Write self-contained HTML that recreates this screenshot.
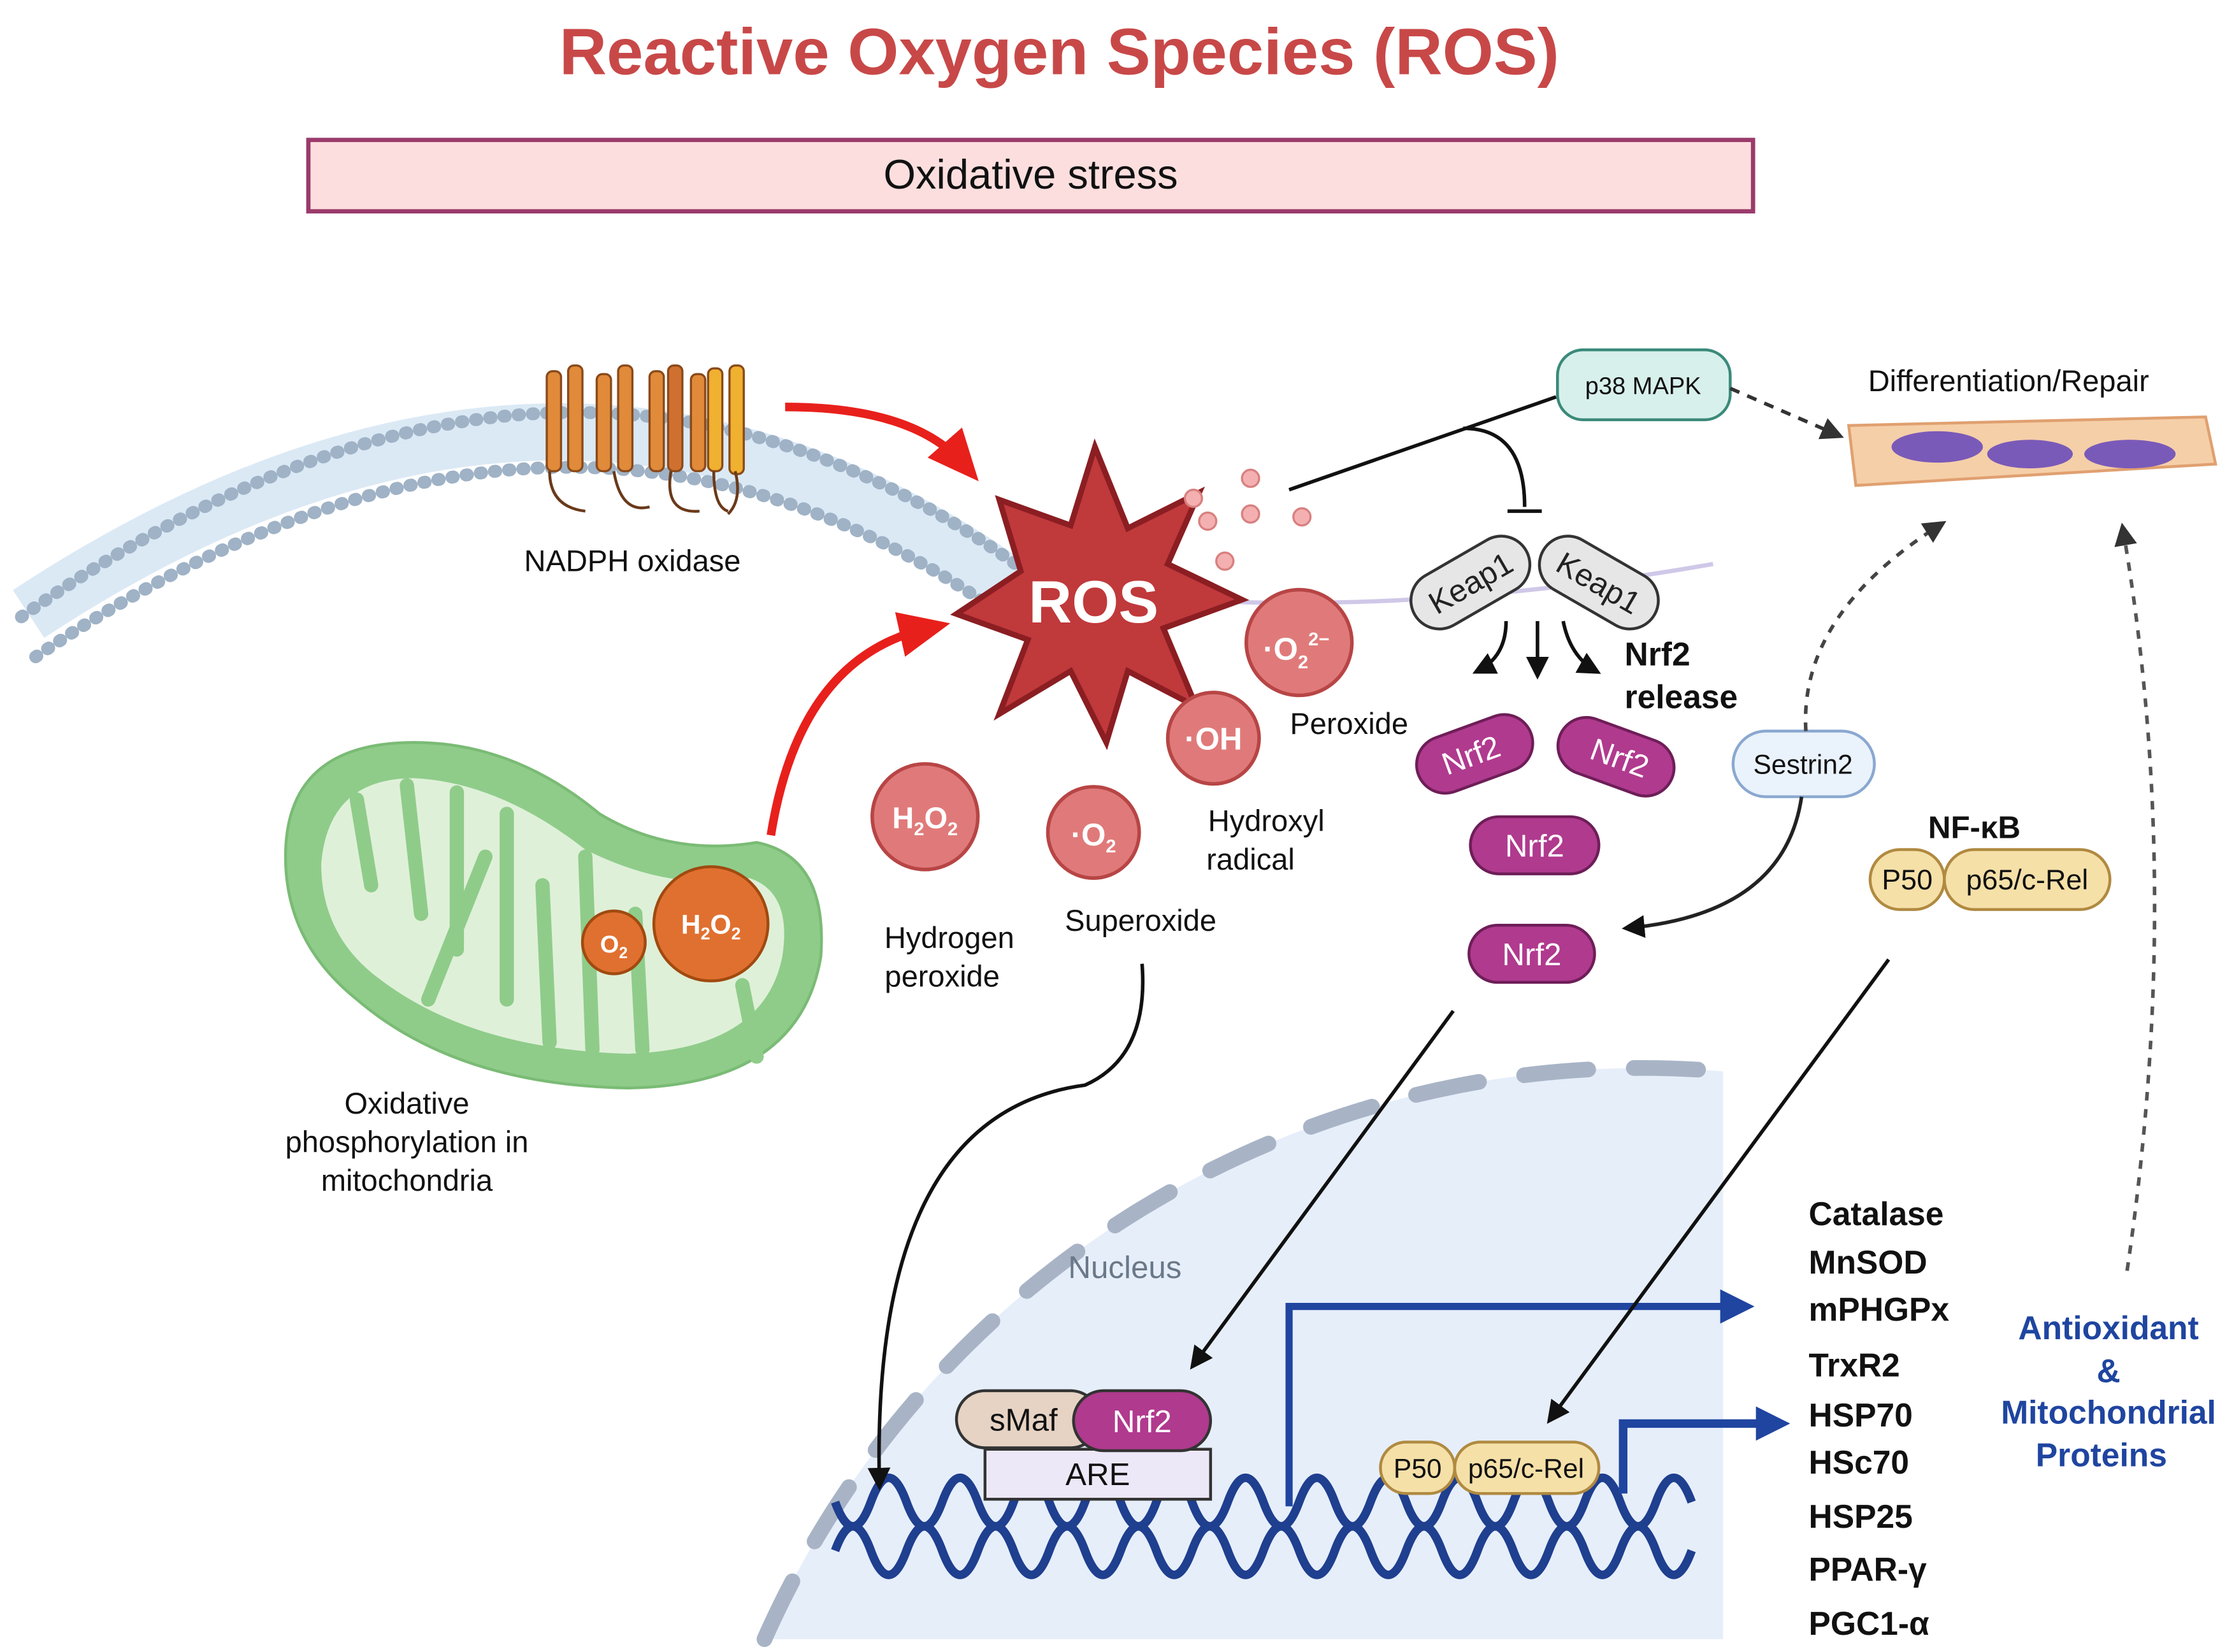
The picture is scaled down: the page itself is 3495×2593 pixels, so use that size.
<!DOCTYPE html>
<html><head><meta charset="utf-8"><style>
html,body{margin:0;padding:0;background:#fff;width:3495px;height:2593px;overflow:hidden}
svg{display:block}
text{font-family:"Liberation Sans",sans-serif}
</style></head><body>
<svg width="3495" height="2593" viewBox="0 0 1560 1157" preserveAspectRatio="none" xmlns="http://www.w3.org/2000/svg">
<defs>
<marker id="arr" markerWidth="40" markerHeight="40" refX="20" refY="20" orient="auto" markerUnits="userSpaceOnUse"><path d="M0,4 L36,20 L0,36 z" fill="#e8201c"/></marker>
<marker id="arb" markerWidth="30" markerHeight="30" refX="10" refY="15" orient="auto" markerUnits="userSpaceOnUse"><path d="M0,3 L24,15 L0,27 z" fill="#1f45a0"/></marker>
<marker id="ard" markerWidth="16" markerHeight="16" refX="12" refY="8" orient="auto" markerUnits="userSpaceOnUse"><path d="M0,0 L16,8 L0,16 z" fill="#333"/></marker>
<marker id="ark" markerWidth="16" markerHeight="16" refX="12" refY="8" orient="auto" markerUnits="userSpaceOnUse"><path d="M0,0 L16,8 L0,16 z" fill="#111"/></marker>
</defs>
<rect width="1560" height="1157" fill="#fff"/>
<text x="742" y="52" text-anchor="middle" font-size="46" font-weight="bold" fill="#c84848">Reactive Oxygen Species (ROS)</text>
<rect x="216" y="98" width="1012" height="50" fill="#fddede" stroke="#9a3b6b" stroke-width="3"/>
<text x="722" y="132" text-anchor="middle" font-size="29" fill="#111">Oxidative stress</text>

<path d="M20,430 Q400,180 720,420" fill="none" stroke="#dbe9f5" stroke-width="40"/>
<path d="M15,432 Q400,160 725,405" fill="none" stroke="#9fb2c6" stroke-width="9" stroke-dasharray="1 9" stroke-linecap="round"/>
<path d="M25,460 Q400,205 715,440" fill="none" stroke="#9fb2c6" stroke-width="9" stroke-dasharray="1 9" stroke-linecap="round"/>
<path d="M830,420 Q1000,430 1200,395" fill="none" stroke="#cfc8e8" stroke-width="3"/>
<g stroke="#8a4a1a" stroke-width="1.5">
<rect x="383" y="260" width="10" height="70" rx="4" fill="#e08a3a"/>
<rect x="398" y="256" width="10" height="74" rx="4" fill="#e08a3a"/>
<rect x="418" y="262" width="10" height="68" rx="4" fill="#e08a3a"/>
<rect x="433" y="256" width="10" height="74" rx="4" fill="#e08a3a"/>
<rect x="455" y="260" width="10" height="70" rx="4" fill="#e08a3a"/>
<rect x="468" y="256" width="10" height="74" rx="4" fill="#d07030"/>
<rect x="484" y="262" width="10" height="68" rx="4" fill="#e08a3a"/>
<rect x="496" y="258" width="10" height="72" rx="4" fill="#f0b030"/>
<rect x="511" y="256" width="10" height="76" rx="4" fill="#f0b030"/>
</g>
<path d="M385,330 q0,25 25,28 M430,330 q5,30 25,25 M470,330 q-5,30 20,28 M500,330 q0,25 10,28 M515,330 q5,20 -5,30" fill="none" stroke="#6a3a1a" stroke-width="2"/>
<text x="443" y="400" text-anchor="middle" font-size="21" fill="#111">NADPH oxidase</text>

<path d="M550,285 Q640,285 675,325" fill="none" stroke="#e8201c" stroke-width="6" marker-end="url(#arr)"/>
<path d="M540,585 Q560,460 650,440" fill="none" stroke="#e8201c" stroke-width="6" marker-end="url(#arr)"/>

<polygon points="767,313 790,370 840,345 818,395 870,420 815,440 838,495 790,470 775,520 750,470 700,500 720,448 670,430 715,400 700,350 750,368" fill="#c0393b" stroke="#8b1e22" stroke-width="4"/>
<text x="766" y="436" text-anchor="middle" font-size="42" font-weight="bold" fill="#fff">ROS</text>
<g fill="#f4b0b0" stroke="#d88080" stroke-width="1.5">
<circle cx="836" cy="349" r="6"/><circle cx="876" cy="335" r="6"/><circle cx="846" cy="365" r="6"/><circle cx="876" cy="360" r="6"/><circle cx="912" cy="362" r="6"/><circle cx="858" cy="393" r="6"/>
</g>
<g fill="#e07a7a" stroke="#b84545" stroke-width="2.5">
<circle cx="910" cy="450" r="37"/><circle cx="850" cy="517" r="32"/><circle cx="648" cy="572" r="37"/><circle cx="766" cy="583" r="32"/>
</g>
<g fill="#fff" font-weight="bold" text-anchor="middle">
<text x="908" y="462" font-size="22">·O<tspan font-size="13" dy="6">2</tspan><tspan font-size="13" dy="-16">2−</tspan></text>
<text x="850" y="525" font-size="22">·OH</text>
<text x="648" y="580" font-size="21">H<tspan font-size="13" dy="5">2</tspan><tspan dy="-5">O</tspan><tspan font-size="13" dy="5">2</tspan></text>
<text x="766" y="592" font-size="22">·O<tspan font-size="13" dy="5">2</tspan></text>
</g>
<g font-size="21" fill="#111" text-anchor="middle">
<text x="945" y="514">Peroxide</text>
<text x="887" y="582">Hydroxyl</text><text x="876" y="609">radical</text>
<text x="665" y="664">Hydrogen</text><text x="660" y="691">peroxide</text>
<text x="799" y="652">Superoxide</text>
</g>

<path d="M200,600 Q200,520 290,520 Q360,520 420,570 Q470,600 530,590 Q580,600 575,670 Q560,760 440,762 Q320,760 250,700 Q200,660 200,600 Z" fill="#8fcc8a" stroke="#7abb75" stroke-width="2"/>
<path d="M225,605 Q230,545 290,545 Q350,548 410,595 Q470,625 525,615 Q555,625 548,670 Q535,735 440,738 Q330,735 265,685 Q225,655 225,605 Z" fill="#dff0d8"/>
<g stroke="#8fcc8a" stroke-width="10" stroke-linecap="round">
<line x1="250" y1="560" x2="260" y2="620"/><line x1="285" y1="550" x2="295" y2="640"/><line x1="320" y1="555" x2="320" y2="665"/><line x1="300" y1="700" x2="340" y2="600"/><line x1="355" y1="570" x2="355" y2="700"/><line x1="385" y1="730" x2="380" y2="620"/><line x1="410" y1="600" x2="415" y2="735"/><line x1="450" y1="735" x2="445" y2="640"/><line x1="520" y1="690" x2="530" y2="740"/>
</g>
<circle cx="430" cy="660" r="22" fill="#e07030" stroke="#a04a10" stroke-width="2"/>
<circle cx="498" cy="647" r="40" fill="#e07030" stroke="#a04a10" stroke-width="2"/>
<text x="430" y="667" text-anchor="middle" font-size="17" font-weight="bold" fill="#fff">O<tspan font-size="11" dy="4">2</tspan></text>
<text x="498" y="654" text-anchor="middle" font-size="19" font-weight="bold" fill="#fff">H<tspan font-size="12" dy="4">2</tspan><tspan dy="-4">O</tspan><tspan font-size="12" dy="4">2</tspan></text>
<g font-size="21" fill="#111" text-anchor="middle">
<text x="285" y="780">Oxidative</text><text x="285" y="807">phosphorylation in</text><text x="285" y="834">mitochondria</text>
</g>

<rect x="1091" y="245" width="121" height="49" rx="18" fill="#d8f0ec" stroke="#3a8a7a" stroke-width="2"/>
<text x="1151" y="276" text-anchor="middle" font-size="17" fill="#111">p38 MAPK</text>
<path d="M903,343 L1090,278" stroke="#111" stroke-width="2.5" fill="none"/>
<path d="M1025,300 Q1068,300 1068,355" stroke="#111" stroke-width="2.5" fill="none"/>
<line x1="1056" y1="358" x2="1080" y2="358" stroke="#111" stroke-width="2.5"/>
<path d="M1212,272 L1288,305" stroke="#333" stroke-width="2.5" stroke-dasharray="7 6" fill="none" marker-end="url(#ard)"/>
<text x="1407" y="274" text-anchor="middle" font-size="21" fill="#111">Differentiation/Repair</text>
<path d="M1295,298 L1545,292 L1552,325 L1300,340 Z" fill="#f5cfa8" stroke="#e0a070" stroke-width="2"/>
<g fill="#7a5ab8"><ellipse cx="1357" cy="313" rx="32" ry="11"/><ellipse cx="1422" cy="318" rx="30" ry="10"/><ellipse cx="1492" cy="318" rx="32" ry="10"/></g>

<g transform="translate(1030,408) rotate(-30)"><rect x="-45" y="-20" width="90" height="40" rx="20" fill="#e6e6e6" stroke="#333" stroke-width="2"/><text x="0" y="8" text-anchor="middle" font-size="22" fill="#222">Keap1</text></g>
<g transform="translate(1120,408) rotate(30)"><rect x="-45" y="-20" width="90" height="40" rx="20" fill="#e6e6e6" stroke="#333" stroke-width="2"/><text x="0" y="8" text-anchor="middle" font-size="22" fill="#222">Keap1</text></g>
<path d="M1055,435 Q1055,460 1035,470" stroke="#111" stroke-width="2.5" fill="none" marker-end="url(#ark)"/>
<path d="M1077,435 L1077,472" stroke="#111" stroke-width="2.5" fill="none" marker-end="url(#ark)"/>
<path d="M1095,435 Q1100,460 1118,470" stroke="#111" stroke-width="2.5" fill="none" marker-end="url(#ark)"/>
<text x="1138" y="466" font-size="23" font-weight="bold" fill="#111">Nrf2</text>
<text x="1138" y="496" font-size="23" font-weight="bold" fill="#111">release</text>
<g fill="#b03a8e" stroke="#6e1e58" stroke-width="2">
<g transform="translate(1033,528) rotate(-20)"><rect x="-42" y="-20" width="84" height="40" rx="20"/></g>
<g transform="translate(1132,530) rotate(20)"><rect x="-42" y="-20" width="84" height="40" rx="20"/></g>
<rect x="1030" y="572" width="90" height="40" rx="20"/>
<rect x="1029" y="648" width="88" height="40" rx="20"/>
</g>
<g fill="#fff" font-size="22" text-anchor="middle">
<text transform="translate(1033,536) rotate(-20)">Nrf2</text>
<text transform="translate(1132,538) rotate(20)">Nrf2</text>
<text x="1075" y="600">Nrf2</text><text x="1073" y="676">Nrf2</text>
</g>
<rect x="1214" y="512" width="99" height="46" rx="23" fill="#eaf2fb" stroke="#8aa8d0" stroke-width="2"/>
<text x="1263" y="542" text-anchor="middle" font-size="19" fill="#111">Sestrin2</text>
<path d="M1265,512 Q1260,430 1360,367" stroke="#444" stroke-width="2.5" stroke-dasharray="6 6" fill="none" marker-end="url(#ard)"/>
<path d="M1262,558 Q1250,640 1140,650" stroke="#222" stroke-width="2.5" fill="none" marker-end="url(#ark)"/>
<text x="1383" y="587" text-anchor="middle" font-size="22" font-weight="bold" fill="#111">NF-κB</text>
<rect x="1310" y="595" width="52" height="42" rx="21" fill="#f5e0a8" stroke="#b08a40" stroke-width="2"/>
<rect x="1362" y="595" width="116" height="42" rx="21" fill="#f5e0a8" stroke="#b08a40" stroke-width="2"/>
<text x="1336" y="623" text-anchor="middle" font-size="20" fill="#111">P50</text>
<text x="1420" y="623" text-anchor="middle" font-size="20" fill="#111">p65/c-Rel</text>
<path d="M1490,890 Q1530,620 1487,370" stroke="#555" stroke-width="2.5" stroke-dasharray="6 6" fill="none" marker-end="url(#ard)"/>

<path d="M535.5,1148 A672,672 0 0 1 1207,750.4 L1207,1148 Z" fill="#e6eefa"/>
<path d="M535.5,1148 A672,672 0 0 1 1207,750.4" fill="none" stroke="#a8b4c6" stroke-width="11" stroke-dasharray="45 32" stroke-linecap="round"/>
<text x="788" y="895" text-anchor="middle" font-size="22" fill="#6a7888">Nucleus</text>
<path d="M585,1052 q12.5,34 25,0 t25,0 t25,0 t25,0 t25,0 t25,0 t25,0 t25,0 t25,0 t25,0 t25,0 t25,0 t25,0 t25,0 t25,0 t25,0 t25,0 t25,0 t25,0 t25,0 t25,0 t25,0 t25,0 t25,0" fill="none" stroke="#1f3f8f" stroke-width="6"/>
<path d="M585,1086 q12.5,-34 25,0 t25,0 t25,0 t25,0 t25,0 t25,0 t25,0 t25,0 t25,0 t25,0 t25,0 t25,0 t25,0 t25,0 t25,0 t25,0 t25,0 t25,0 t25,0 t25,0 t25,0 t25,0 t25,0 t25,0" fill="none" stroke="#1f3f8f" stroke-width="6"/>
<rect x="690" y="1015" width="158" height="35" fill="#ece8f8" stroke="#333" stroke-width="2"/>
<text x="769" y="1040" text-anchor="middle" font-size="22" fill="#111">ARE</text>
<rect x="670" y="974" width="100" height="40" rx="20" fill="#e6d3c4" stroke="#333" stroke-width="2"/>
<text x="717" y="1002" text-anchor="middle" font-size="22" fill="#111">sMaf</text>
<rect x="752" y="974" width="96" height="42" rx="21" fill="#b03a8e" stroke="#333" stroke-width="2"/>
<text x="800" y="1003" text-anchor="middle" font-size="22" fill="#fff">Nrf2</text>
<rect x="967" y="1010" width="52" height="36" rx="18" fill="#f5e0a8" stroke="#b08a40" stroke-width="2"/>
<rect x="1019" y="1010" width="101" height="36" rx="18" fill="#f5e0a8" stroke="#b08a40" stroke-width="2"/>
<text x="993" y="1035" text-anchor="middle" font-size="19" fill="#111">P50</text>
<text x="1069" y="1035" text-anchor="middle" font-size="19" fill="#111">p65/c-Rel</text>
<path d="M903,1055 L903,915 L1215,915" stroke="#1f45a0" stroke-width="5" fill="none" marker-end="url(#arb)"/>
<path d="M1137,1046 L1137,997 L1240,997" stroke="#1f45a0" stroke-width="6" fill="none" marker-end="url(#arb)"/>
<path d="M800,675 Q805,740 760,760 Q610,780 616,1040" stroke="#111" stroke-width="2.5" fill="none" marker-end="url(#ark)"/>
<path d="M1018,708 L836,956" stroke="#111" stroke-width="2.5" fill="none" marker-end="url(#ark)"/>
<path d="M1323,672 L1086,994" stroke="#111" stroke-width="2.5" fill="none" marker-end="url(#ark)"/>
<g font-size="23" font-weight="bold" fill="#111">
<text x="1267" y="858">Catalase</text><text x="1267" y="892">MnSOD</text><text x="1267" y="925">mPHGPx</text><text x="1267" y="964">TrxR2</text><text x="1267" y="999">HSP70</text><text x="1267" y="1032">HSc70</text><text x="1267" y="1070">HSP25</text><text x="1267" y="1107">PPAR-γ</text><text x="1267" y="1145">PGC1-α</text>
</g>
<g font-size="23" font-weight="bold" fill="#1f45a0" text-anchor="middle">
<text x="1477" y="938">Antioxidant</text><text x="1477" y="968">&amp;</text><text x="1477" y="997">Mitochondrial</text><text x="1472" y="1027">Proteins</text>
</g>
</svg>
</body></html>
